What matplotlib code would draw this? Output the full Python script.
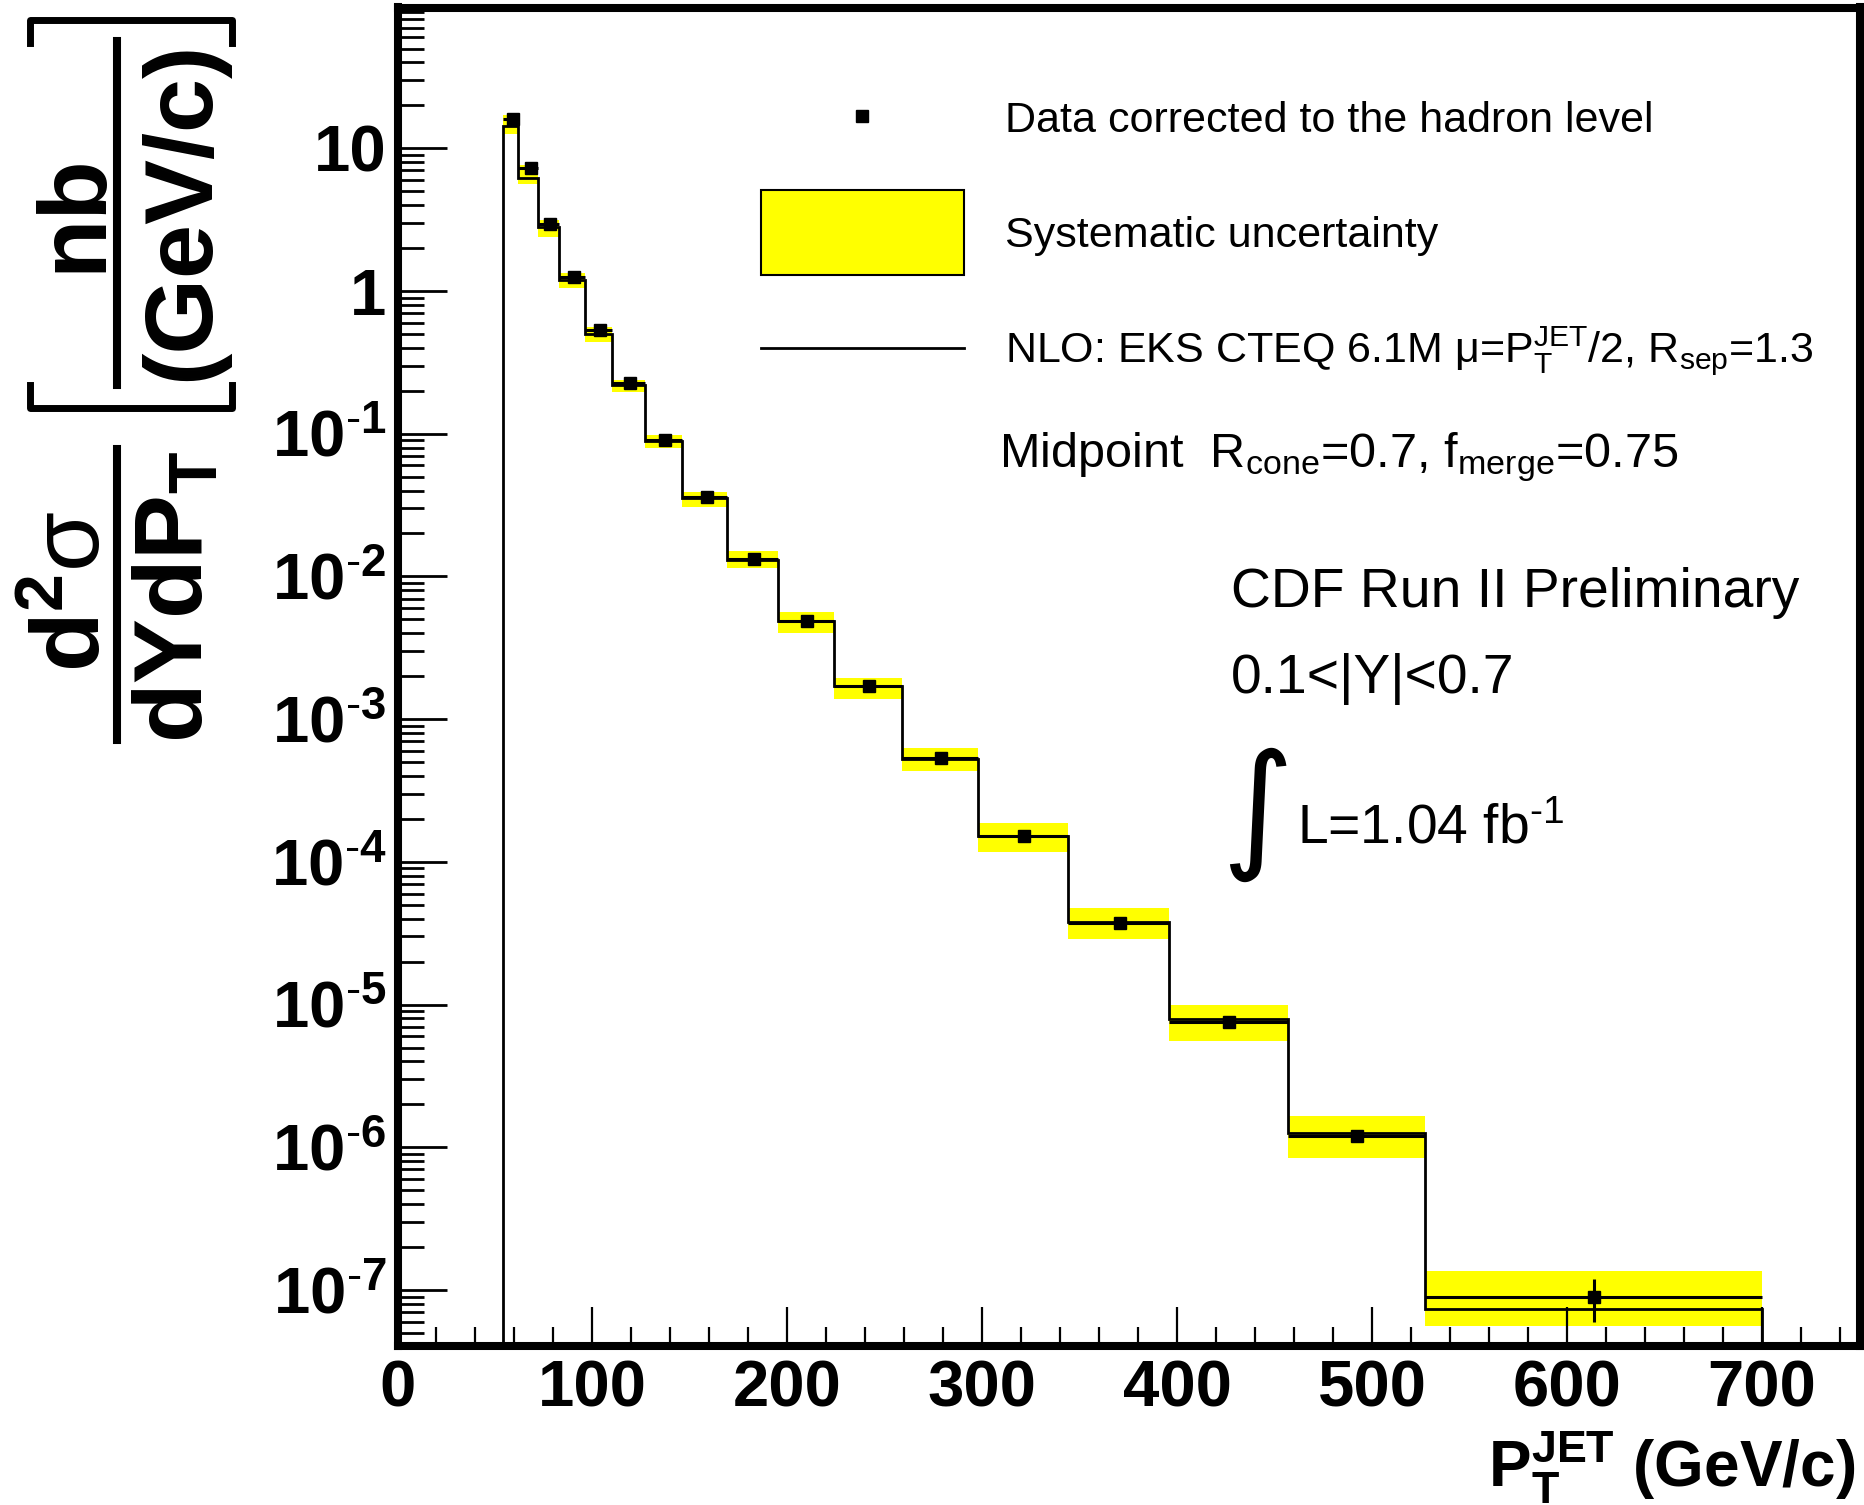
"""
CDF Run II inclusive jet cross section, midpoint cones, 0.1<|Y|<0.7
"""
import numpy as np
import matplotlib
matplotlib.use('Agg')
import matplotlib.pyplot as plt
from matplotlib.lines import Line2D
from matplotlib.patches import Rectangle
from matplotlib.ticker import FixedLocator, LogLocator, MultipleLocator, NullFormatter

# bin edges in pT (GeV/c)
edges = [54, 62, 72, 83, 96, 110, 127, 146, 169, 195, 224, 259, 298, 344, 396, 457, 527, 700]
# mean pT of the data in each bin
pt_mean = [59.2, 68.3, 78.3, 90.5, 103.9, 119.5, 137.2, 158.7, 183.0, 210.3,
           241.8, 278.9, 321.2, 370.4, 426.7, 492.3, 613.7]
# measured cross section (nb/(GeV/c))
data = [16.0, 7.24, 2.95, 1.25, 0.533, 0.225, 0.0903, 0.0358, 0.0133, 0.00486,
        0.00170, 5.31e-4, 1.52e-4, 3.71e-5, 7.5e-6, 1.19e-6, 8.96e-8]
stat_err = [0.1, 0.04, 0.015, 0.006, 0.003, 0.0012, 0.0005, 0.0002, 0.0001, 4e-5,
            2e-5, 8e-6, 3e-6, 1e-6, 3e-7, 1.0e-7, 3.0e-8]
# systematic band (low, high)
sys_lo = [12.7, 5.6, 2.38, 1.045, 0.44, 0.197, 0.079, 0.0305, 0.0114, 0.00404,
          0.00138, 4.35e-4, 1.18e-4, 2.86e-5, 5.57e-6, 8.35e-7, 5.58e-8]
sys_hi = [17.2, 7.7, 3.15, 1.33, 0.56, 0.238, 0.098, 0.0393, 0.0151, 0.00566,
          0.00193, 6.24e-4, 1.88e-4, 4.72e-5, 1.0e-5, 1.66e-6, 1.36e-7]
# NLO prediction
nlo = [14.3, 6.16, 2.83, 1.19, 0.498, 0.219, 0.089, 0.0355, 0.0130, 0.0049,
       0.00170, 5.25e-4, 1.52e-4, 3.77e-5, 7.87e-6, 1.25e-6, 7.33e-8]

xtick_vals = [0, 100, 200, 300, 400, 500, 600, 700]
xtick_labels = ['0', '100', '200', '300', '400', '500', '600', '700']
ytick_vals = [1e-7, 1e-6, 1e-5, 1e-4, 1e-3, 1e-2, 1e-1, 1, 10]
ytick_labels = [r'$\mathbf{10^{\text{-}7}}$', r'$\mathbf{10^{\text{-}6}}$',
                r'$\mathbf{10^{\text{-}5}}$', r'$\mathbf{10^{\text{-}4}}$',
                r'$\mathbf{10^{\text{-}3}}$', r'$\mathbf{10^{\text{-}2}}$',
                r'$\mathbf{10^{\text{-}1}}$', '1', '10']

plt.rcParams['font.family'] = ['Liberation Sans', 'DejaVu Sans']
plt.rcParams['mathtext.fontset'] = 'custom'
plt.rcParams['mathtext.rm'] = 'Liberation Sans'
plt.rcParams['mathtext.it'] = 'Liberation Sans'
plt.rcParams['mathtext.sf'] = 'Liberation Sans'
plt.rcParams['mathtext.bf'] = 'Liberation Sans:bold'

W, H = 1864, 1505
def fx(px):
    return px / W
def fy(py):
    return 1 - py / H

fig = plt.figure(figsize=(W / 100, H / 100), dpi=100)
ax = fig.add_axes([fx(397.5), fy(1346), fx(1859.5) - fx(397.5), fy(7.5) - fy(1346)])
ax.set_yscale('log')

edges_a = np.array(edges)
lo = np.array(sys_lo)
hi = np.array(sys_hi)
ax.bar(edges_a[:-1], hi - lo, bottom=lo, width=np.diff(edges_a), align='edge',
       color='#ffff00', linewidth=0, zorder=1)
ax.stairs(nlo, edges, baseline=1e-12, color='k', lw=2.0, zorder=2)
x = np.array(pt_mean)
xerr = [x - edges_a[:-1], edges_a[1:] - x]
ax.errorbar(x, data, xerr=xerr, yerr=stat_err, fmt='s', color='k', ms=8,
            elinewidth=2.2, capsize=0, zorder=3)

ax.set_xlim(0, 750)
ax.set_ylim(4.05e-8, 97)

ax.xaxis.set_major_locator(FixedLocator(xtick_vals))
ax.set_xticklabels(xtick_labels, fontsize=47, fontweight='bold')
ax.xaxis.set_minor_locator(MultipleLocator(20))
ax.yaxis.set_major_locator(FixedLocator(ytick_vals))
ax.set_yticklabels(ytick_labels, fontsize=47, fontweight='bold')
ax.yaxis.set_minor_locator(LogLocator(base=10, subs=np.arange(2, 10), numticks=30))
ax.yaxis.set_minor_formatter(NullFormatter())

ax.tick_params(which='both', direction='in', top=False, right=False)
ax.tick_params(axis='y', which='major', length=35, width=2, pad=8)
ax.tick_params(axis='y', which='minor', length=18.6, width=2)
ax.tick_params(axis='x', which='major', length=28, width=1.6, pad=10)
ax.tick_params(axis='x', which='minor', length=14, width=1.6)
for s in ax.spines.values():
    s.set_linewidth(5.8)

# x axis title
fig.text(fx(1855), fy(1487), r'$\mathbf{P_{T}^{JET}}$ (GeV/c)', fontsize=46,
         fontweight='bold', ha='right', va='baseline')

# y axis title, built from pieces
rot = dict(rotation=90, rotation_mode='anchor', ha='center', va='baseline',
           fontsize=70, fontweight='bold')
fig.text(fx(100), fy(591), r'$\mathbf{d^{2}}\sigma$', **rot)
fig.text(fx(203), fy(597), r'$\mathbf{dYdP_{T}}$', **rot)
fig.text(fx(100), fy(213), 'nb', **rot)
fig.text(fx(208), fy(211), '(GeV/c)', **rot)
fig.add_artist(Line2D([fx(117), fx(117)], [fy(449), fy(740)], color='k', lw=5.8))
fig.add_artist(Line2D([fx(117), fx(117)], [fy(41), fy(385)], color='k', lw=5.8))
fig.add_artist(Line2D([fx(30), fx(30), fx(232), fx(232)],
                      [fy(43), fy(20), fy(20), fy(43)], color='k', lw=5))
fig.add_artist(Line2D([fx(30), fx(30), fx(232), fx(232)],
                      [fy(385), fy(408), fy(408), fy(385)], color='k', lw=5))

# legend
fig.add_artist(Line2D([fx(862)], [fy(116)], marker='s', ms=8, color='k', ls='none'))
fig.add_artist(Rectangle((fx(761), fy(275)), fx(964) - fx(761), fy(190) - fy(275),
                         facecolor='#ffff00', edgecolor='k', lw=1.5,
                         transform=fig.transFigure))
fig.add_artist(Line2D([fx(761), fx(964)], [fy(348), fy(348)], color='k', lw=2))
fig.text(fx(1005), fy(131.7), 'Data corrected to the hadron level', fontsize=31, va='baseline')
fig.text(fx(1005), fy(246.7), 'Systematic uncertainty', fontsize=31, va='baseline')
fig.text(fx(1005), fy(361.7), r'NLO: EKS CTEQ 6.1M $\mu$=P$_{T}^{JET}$/2, R$_{sep}$=1.3',
         fontsize=31, va='baseline')
fig.text(fx(999), fy(466.7), r'Midpoint  R$_{cone}$=0.7, f$_{merge}$=0.75',
         fontsize=35, va='baseline')

fig.text(fx(1231), fy(606.7), 'CDF Run II Preliminary', fontsize=39.8, va='baseline')
fig.text(fx(1231), fy(693.3), '0.1<|Y|<0.7', fontsize=39.8, va='baseline')
fig.text(fx(1257), fy(814), '\u222b', fontsize=100, family=['DejaVu Sans'],
         ha='center', va='center')
fig.text(fx(1297), fy(843.3), r'L=1.04 fb$^{\text{-}1}$', fontsize=39.8, va='baseline')

fig.savefig('out.png', dpi=100)
